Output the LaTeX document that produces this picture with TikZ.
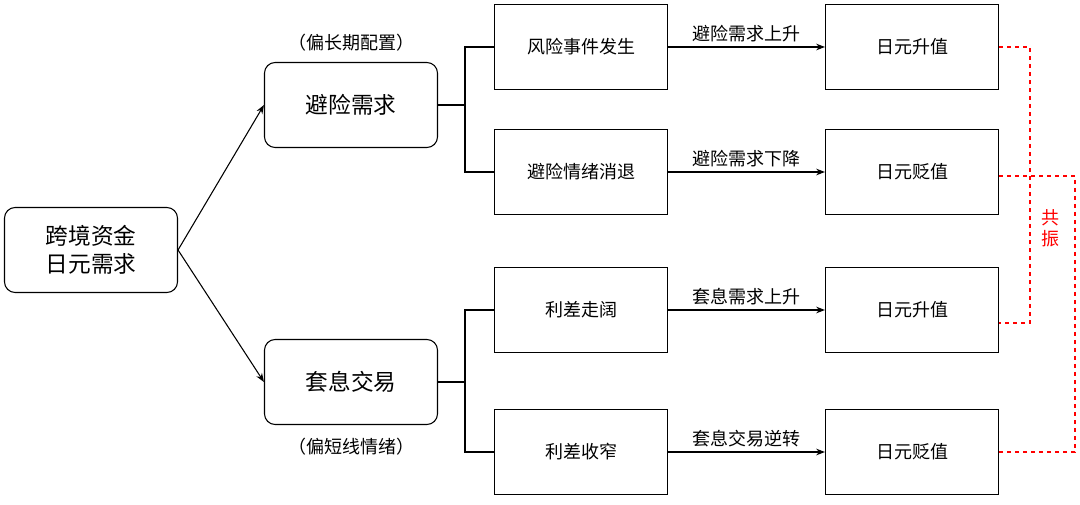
\documentclass[tikz,border=0pt]{standalone}
\usepackage{fontspec}
\setmainfont{Noto Sans CJK SC}
\usetikzlibrary{arrows.meta}
\tikzset{
  bigbox/.style={draw,rounded corners=8pt,minimum width=129.75pt,minimum height=63.75pt,align=center,font=\fontsize{17}{21}\selectfont},
  smallbox/.style={draw,minimum width=129.75pt,minimum height=63.75pt,font=\fontsize{13.5}{16}\selectfont},
  lbl/.style={font=\fontsize{13.5}{16}\selectfont},
}
\begin{document}
\begin{tikzpicture}[x=0.75pt,y=-0.75pt,>=Stealth,line width=0.8pt]
\useasboundingbox (0,0) rectangle (1080,505);

\node[bigbox] (root) at (91,250) {跨境资金\\日元需求};
\node[bigbox] (hedge) at (351,105) {避险需求};
\node[bigbox] (carry) at (351,382) {套息交易};
\node[lbl] at (351,43) {（偏长期配置）};
\node[lbl] at (351,447) {（偏短线情绪）};

\node[smallbox] (m1) at (581,47) {风险事件发生};
\node[smallbox] (m2) at (581,172) {避险情绪消退};
\node[smallbox] (m3) at (581,310) {利差走阔};
\node[smallbox] (m4) at (581,452) {利差收窄};

\node[smallbox] (r1) at (912,47) {日元升值};
\node[smallbox] (r2) at (912,172) {日元贬值};
\node[smallbox] (r3) at (912,310) {日元升值};
\node[smallbox] (r4) at (912,452) {日元贬值};

\draw[->] (root.east) -- (hedge.west);
\draw[->] (root.east) -- (carry.west);

\draw (hedge.east) -- (465,105) coordinate (h);
\draw (m1.west) -| (h) |- (m2.west);
\draw (carry.east) -- (465,382) coordinate (c);
\draw (m3.west) -| (c) |- (m4.west);

\draw[->] (m1) -- node[lbl,above] {避险需求上升} (r1);
\draw[->] (m2) -- node[lbl,above] {避险需求下降} (r2);
\draw[->] (m3) -- node[lbl,above] {套息需求上升} (r3);
\draw[->] (m4) -- node[lbl,above] {套息交易逆转} (r4);

\draw[red,dashed] (r1.east) -- (1030,47) -- (1030,323) -- (999,323);
\draw[red,dashed] (999,176) -- (1075,176) -- (1075,452) -- (r4.east);
\node[red,lbl,align=center,fill=white,inner sep=1pt] at (1050,228) {共\\振};
\end{tikzpicture}
\end{document}
